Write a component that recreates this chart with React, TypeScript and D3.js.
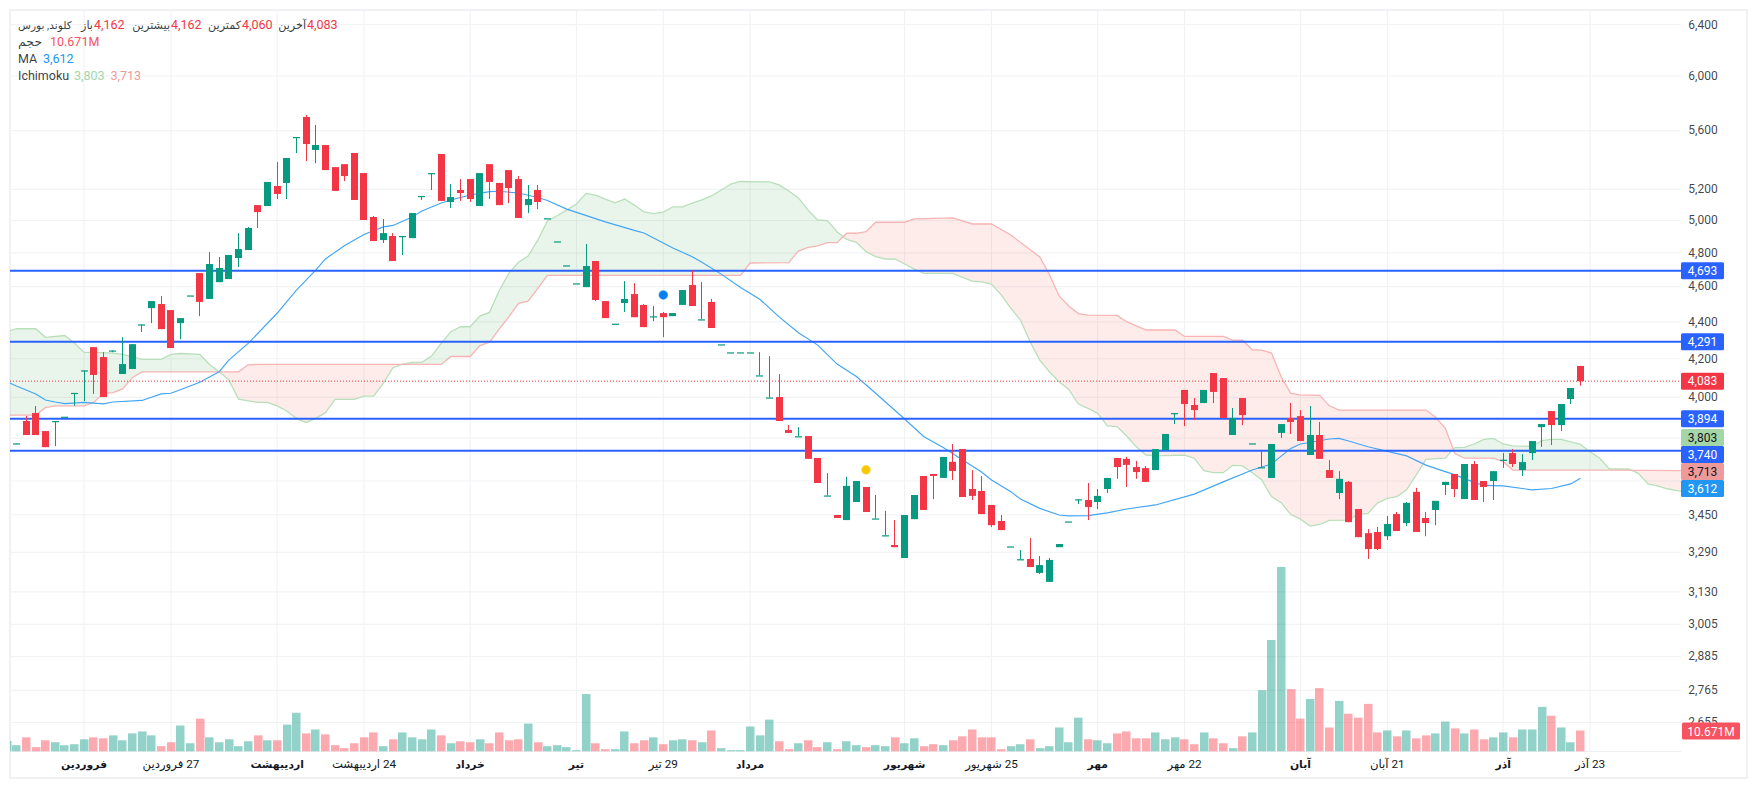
import React from 'react';
import * as d3 from 'd3';

// Bars are listed from the clipped first session through the last one.
const opens = [3775,3772,3883,3922,3834,3883,3904,4023,
4139,4262,4209,4244,4120,4146,4386,4477,4500,4466,
4393,4549,4679,4529,4626,4644,4769,4817,5098,5092,
5222,5242,5555,5697,5465,5499,5348,5368,5444,5308,
5022,4878,4903,4903,4890,5157,5308,5437,5118,5196,
5268,5092,5368,5242,5328,5268,5098,5196,5014,4870,
4725,4619,4597,4751,4517,4390,4506,4557,4495,4431,
4449,4432,4495,4609,4414,4512,4277,4234,4234,4234,
4113,4000,4002,3839,3809,3810,3706,3535,3449,3427,
3506,3573,3434,3362,3321,3267,3431,3623,3632,3614,
3688,3748,3564,3555,3493,3423,3315,3262,3263,3206,
3170,3312,3421,3518,3515,3506,3564,3706,3702,3664,
3659,3650,3743,3922,4038,3962,3972,4125,4099,3815,
3997,3775,3663,3614,3825,3898,3907,3720,3815,3650,
3546,3596,3475,3371,3376,3358,3453,3414,3551,3436,
3471,3582,3632,3519,3678,3600,3600,3698,3729,3650,
3729,3853,3932,3863,3992,4162];
const highs = [3778,3775,3908,3957,3834,3883,3904,4023,
4139,4262,4235,4244,4316,4278,4386,4517,4546,4466,
4421,4549,4679,4805,4775,4787,4921,4959,5098,5249,
5382,5410,5555,5711,5640,5499,5348,5368,5444,5308,
5028,5009,4921,4903,5047,5157,5308,5437,5235,5268,
5268,5308,5368,5242,5328,5288,5229,5229,5014,4870,
4725,4619,4854,4751,4517,4390,4632,4620,4500,4489,
4455,4449,4580,4697,4626,4529,4277,4234,4234,4234,
4235,4214,4120,3863,3853,3810,3706,3636,3449,3619,
3600,3573,3537,3467,3427,3449,3537,3623,3632,3711,
3772,3748,3650,3623,3493,3449,3315,3300,3350,3275,
3267,3325,3421,3518,3591,3564,3614,3706,3711,3692,
3669,3748,3820,3922,4038,3997,4038,4125,4099,3947,
3997,3775,3739,3772,3868,3972,3937,3957,3878,3697,
3645,3600,3475,3388,3397,3445,3462,3506,3569,3462,
3511,3596,3632,3678,3692,3600,3645,3729,3748,3724,
3786,3868,3932,3967,4048,4162];
const lows = [3772,3772,3815,3815,3757,3762,3904,3959,
3982,4018,4002,4235,4120,4146,4344,4393,4360,4257,
4305,4549,4432,4529,4626,4644,4715,4817,4953,5092,
5137,5137,5444,5389,5375,5328,5190,5255,5131,5003,
4872,4860,4751,4787,4890,5131,5196,5125,5079,5125,
5118,5092,5137,5098,5111,5016,5047,5072,5014,4870,
4725,4619,4597,4517,4421,4390,4455,4426,4371,4404,
4316,4432,4495,4489,4414,4366,4277,4234,4234,4234,
4113,4000,3883,3825,3809,3702,3591,3535,3436,3427,
3506,3462,3434,3362,3312,3267,3431,3471,3519,3614,
3605,3528,3515,3453,3397,3384,3315,3262,3230,3202,
3170,3312,3421,3497,3427,3475,3546,3610,3573,3610,
3596,3650,3743,3868,3858,3888,3972,3972,3898,3815,
3863,3775,3663,3614,3801,3820,3786,3720,3702,3614,
3519,3418,3354,3263,3300,3342,3380,3401,3376,3358,
3405,3537,3528,3519,3515,3506,3515,3660,3664,3623,
3697,3758,3767,3834,3967,4060];
const closes = [3777,3775,3815,3815,3757,3883,3904,4023,
4139,4115,4002,4244,4172,4278,4386,4517,4360,4257,
4421,4549,4512,4733,4709,4787,4823,4953,5053,5249,
5170,5410,5555,5506,5499,5328,5190,5288,5131,5003,
4872,4921,4751,4903,5047,5157,5308,5125,5150,5176,
5137,5308,5249,5098,5209,5016,5137,5118,5014,4870,
4725,4619,4721,4523,4421,4390,4529,4426,4371,4431,
4426,4449,4580,4489,4414,4366,4277,4234,4234,4234,
4113,4000,3883,3825,3809,3702,3591,3535,3436,3578,
3600,3462,3434,3362,3312,3449,3537,3471,3623,3711,
3646,3528,3533,3453,3405,3384,3315,3262,3230,3238,
3259,3325,3421,3518,3484,3533,3614,3664,3674,3641,
3596,3748,3820,3922,3967,3937,4038,4028,3898,3898,
3912,3775,3663,3772,3868,3878,3786,3815,3702,3614,
3610,3418,3354,3304,3304,3410,3380,3502,3376,3414,
3511,3596,3564,3678,3515,3573,3645,3698,3678,3687,
3786,3868,3863,3967,4048,4083];
const volumesM = [5.3,3.2,7.2,2.2,5.7,4.7,3.2,3.7,
6.2,7.2,6.7,8.2,5.7,9.2,10.2,8.2,2.7,4.7,
13.2,4.2,16.7,7.2,4.7,6.2,2.7,5.2,8.2,5.7,
5.7,13.7,19.7,9.2,11.2,8.7,3.2,1.7,4.2,7.2,
9.7,2.7,6.2,9.7,7.2,6.2,11.2,8.2,4.2,5.2,
4.7,6.2,4.2,9.7,5.7,6.2,14.2,4.7,2.7,3.2,
2.2,0.7,29.2,4.2,1.2,1.2,10.2,4.2,5.7,7.2,
3.7,5.7,6.2,5.7,4.7,10.7,1.7,0.7,0.7,12.7,
8.2,16.2,5.2,1.2,4.2,5.7,2.2,4.7,1.2,5.2,
3.2,2.2,3.2,2.7,7.2,4.2,6.7,2.7,3.7,3.2,
5.7,7.7,11.2,7.2,7.2,1.2,2.7,3.7,6.2,1.7,
2.7,12.2,4.7,17.2,6.2,5.7,4.2,9.2,10.2,6.7,
6.7,9.7,6.2,7.2,6.2,3.7,9.7,6.7,4.2,1.7,
7.7,9.7,31.2,56.7,93.8,31.7,16.7,26.7,32.2,12.2,
25.7,19.2,17.2,24.2,9.7,10.7,7.7,10.7,6.7,8.2,
9.2,15.2,11.7,9.2,11.2,6.2,7.2,9.7,7.2,11.2,
11.2,22.7,18.2,12.2,4.7,10.671];

// Indicator vertices: bar numbers relative to the first month tick, with values.
const maBars = [-8,-7,-6,-5,-4,-3,-2,0,2,3,6,8,9,12,14,15,17,20,22,24,25,27,29,31,32,34,35,37,38,40,42,43,45,47,48,50,54,57,58,61,63,64,66,68,70,72,74,76,78,80,82,85,87,89,93,94,96,97,99,101,102,104,106,108,111,115,118,121,123,125,126,129,130,131,133,137,139,142,144,145,147,150,152,154,155];
const maValues = [4080,4058,4038,4018,3987,3977,3969,3975,3968,3977,3985,4018,4021,4077,4132,4193,4282,4448,4580,4697,4763,4845,4912,4960,4969,5022,5060,5111,5131,5163,5185,5188,5176,5147,5128,5072,4991,4938,4922,4829,4777,4743,4673,4595,4527,4428,4340,4273,4172,4107,4021,3893,3807,3755,3640,3605,3552,3519,3478,3449,3445,3446,3458,3475,3493,3541,3596,3650,3678,3751,3772,3796,3799,3786,3759,3716,3673,3628,3594,3580,3578,3560,3566,3587,3612];
const spanABars = [-8,-7,-5,-4,-2,-1,0,1,3,4,6,8,9,10,12,13,14,15,16,18,19,20,21,22,23,24,25,26,28,29,30,31,32,33,34,35,36,37,38,39,40,41,42,43,44,45,46,47,48,49,50,51,52,53,54,55,56,57,58,59,60,61,62,63,64,65,66,67,68,71,72,73,74,75,76,77,78,79,80,81,82,83,84,85,86,87,90,92,93,94,95,96,97,98,99,100,101,102,103,104,105,106,107,108,109,110,111,114,115,116,117,118,119,120,121,122,123,124,125,126,127,128,129,131,132,133,134,135,136,137,138,139,141,142,143,144,145,146,147,148,150,151,152,153,155,156,157,158,160,161,162,163,164,165,166];
const spanAValues = [4346,4362,4362,4315,4325,4284,4234,4234,4230,4223,4197,4197,4223,4228,4223,4170,4132,4089,3992,3975,3975,3958,3932,3896,3876,3896,3924,3990,3990,4007,4007,4072,4153,4172,4181,4181,4214,4282,4346,4373,4373,4432,4453,4576,4677,4743,4781,4878,4997,5030,5066,5105,5174,5163,5137,5113,5137,5098,5055,5044,5053,5087,5087,5111,5131,5157,5196,5235,5252,5249,5229,5189,5144,5066,5003,4999,4930,4882,4864,4807,4777,4763,4763,4733,4703,4677,4677,4632,4628,4615,4552,4477,4410,4291,4193,4132,4080,4041,3967,3945,3921,3859,3856,3810,3759,3720,3716,3719,3705,3647,3638,3638,3672,3669,3639,3605,3530,3503,3451,3431,3401,3408,3426,3427,3453,3456,3502,3522,3530,3560,3628,3700,3705,3755,3756,3772,3794,3799,3772,3763,3761,3788,3794,3794,3770,3735,3705,3655,3655,3635,3587,3578,3565,3557,3551];
const spanBBars = [-8,-5,-4,-3,0,1,2,3,4,5,6,16,17,18,37,38,40,41,42,43,44,45,46,47,48,68,69,73,74,75,76,77,78,79,80,81,82,85,86,90,92,93,94,96,99,100,101,102,103,104,107,108,109,110,113,114,118,119,120,121,122,123,124,125,126,128,129,130,139,140,141,142,143,146,147,148,158,166];
const spanBValues = [3912,3912,3949,3958,3958,3975,4021,4024,4043,4101,4131,4131,4168,4170,4170,4212,4212,4270,4288,4360,4428,4504,4517,4590,4666,4666,4739,4741,4811,4833,4843,4862,4862,4920,4920,4930,4989,4989,5010,5016,4978,4978,4978,4909,4775,4671,4546,4489,4446,4438,4436,4401,4378,4355,4355,4320,4320,4300,4300,4248,4246,4230,4106,4021,4013,4011,3958,3937,3937,3902,3847,3727,3705,3705,3689,3650,3650,3647];

const gridPrices = [6400,6000,5600,5200,5000,4800,4600,4400,4200,4000,3800,3600,3450,3290,3130,3005,2885,2765,2655];
const priceLabels = [6400,6000,5600,5200,5000,4800,4600,4400,4200,4000,3450,3290,3130,3005,2885,2765,2655];
const timeBars = [0,9,20,29,40,51,60,69,85,94,105,114,126,135,147,156];
const timeLabels = ['فروردین','27 فروردین','اردیبهشت','24 اردیبهشت','خرداد','تیر','29 تیر','مرداد','شهریور','25 شهریور','مهر','22 مهر','آبان','21 آبان','آذر','23 آذر'];
const timeBold = [true,false,true,false,true,true,false,true,true,false,true,false,true,false,true,false];

const levelValues = [4693,4291,3894,3740];
const lastPrice = 4083;
const spanALast = 3803;
const spanBLast = 3713;
const maLast = 3612;
const lastVolumeM = 10.671;
const markerBars = [60,81];
const markerPrices = [4552,3651];
const markerColors = ['#0a7ff0','#f6c800'];
const ohlcNames = ['باز','بیشترین','کمترین','آخرین'];
const ohlcValues = [4162,4162,4060,4083];

const UP = '#089981';
const DOWN = '#f23645';
const BLUE = '#2962ff';
const FONT = 'Roboto, "DejaVu Sans", sans-serif';
const TEXT = '#131722';

const width = 1757;
const height = 790;
const plot = { left: 10, top: 10, right: 1681, bottom: 751.5, frameRight: 1747, frameBottom: 778 };

export default function App() {
  const x = d3.scaleLinear().domain([-8, 155]).range([6.8, 1580.4]);
  const y = d3.scaleLog().domain([6400, 2655]).range([24.7, 722.5]);
  const vol = d3.scaleLinear().domain([0, 93.8]).range([plot.bottom, 567]);
  const fmt = d3.format(',');

  const line = d3.line<[number, number]>().x(d => x(d[0])).y(d => y(d[1]));
  const pts = (b: number[], v: number[]) => b.map((k, i) => [k, v[i]] as [number, number]);
  const a = pts(spanABars, spanAValues);
  const b = pts(spanBBars, spanBValues);
  const bandPath = 'M' + a.map(d => `${x(d[0])},${y(d[1])}`).join('L') + 'L' + [...b].reverse().map(d => `${x(d[0])},${y(d[1])}`).join('L') + 'Z';
  const bEdge = b.map(d => `${x(d[0])},${y(d[1])}`).join('L');
  const aboveB = `M${x(-8)},0L${bEdge}L${x(166)},0Z`;
  const belowB = `M${x(-8)},${height}L${bEdge}L${x(166)},${height}Z`;

  const bars = opens.map((o, i) => ({
    k: i - 8, o, h: highs[i], l: lows[i], c: closes[i], v: volumesM[i], up: closes[i] >= o,
  }));

  const stackedValues = [
    { v: spanALast, bg: '#a5d6a7', fg: TEXT },
    { v: levelValues[3], bg: BLUE, fg: '#fff' },
    { v: spanBLast, bg: '#ef9a9a', fg: TEXT },
    { v: maLast, bg: '#2196f3', fg: '#fff' },
  ];
  const boxH = 17;
  let lastCenter = -Infinity;
  const stacked = stackedValues.map(s => {
    const c = Math.max(y(s.v), lastCenter + boxH);
    lastCenter = c;
    return { ...s, c };
  });
  const tags = [
    { v: levelValues[0], bg: BLUE, fg: '#fff', c: y(levelValues[0]) },
    { v: levelValues[1], bg: BLUE, fg: '#fff', c: y(levelValues[1]) },
    { v: lastPrice, bg: DOWN, fg: '#fff', c: y(lastPrice) },
    { v: levelValues[2], bg: BLUE, fg: '#fff', c: y(levelValues[2]) },
    ...stacked,
  ];

  const ohlcNameEnd = [93, 170, 241, 306];
  const ohlcValueStart = [94, 171, 242, 307];

  return (
    <svg width={width} height={height} viewBox={`0 0 ${width} ${height}`}
      style={{ position: 'absolute', left: 0, top: 0, background: '#fff', fontFamily: FONT }}>
      <defs>
        <clipPath id="plotClip"><rect x={plot.left} y={plot.top} width={plot.right - plot.left} height={plot.bottom - plot.top} /></clipPath>
        <clipPath id="aboveB"><path d={aboveB} /></clipPath>
        <clipPath id="belowB"><path d={belowB} /></clipPath>
      </defs>
      <rect x={plot.left} y={plot.top} width={plot.frameRight - plot.left} height={plot.frameBottom - plot.top} fill="#fff" stroke="#f0f0f5" strokeWidth={2} />

      {gridPrices.map(t => (
        <line key={t} x1={plot.left} x2={plot.right} y1={y(t)} y2={y(t)} stroke="#f2f3f5" strokeWidth={1.2} />
      ))}
      {timeBars.map(k => (
        <line key={k} x1={x(k)} x2={x(k)} y1={plot.top} y2={plot.bottom} stroke="#f0f1f3" strokeWidth={1} />
      ))}
      <line x1={plot.left} x2={plot.right} y1={plot.bottom} y2={plot.bottom} stroke="#eceef1" strokeWidth={1} />

      <g clipPath="url(#plotClip)">
        <g clipPath="url(#aboveB)"><path d={bandPath} fill="rgba(76,175,80,0.12)" /></g>
        <g clipPath="url(#belowB)"><path d={bandPath} fill="rgba(244,67,54,0.1)" /></g>
        <path d={line(a) as string} fill="none" stroke="#b9dfba" strokeWidth={1.3} />
        <path d={line(b) as string} fill="none" stroke="#f7b4b4" strokeWidth={1.3} />

        {bars.map(d => (
          <rect key={d.k} x={Math.round(x(d.k) - 4.25)} y={vol(d.v)} width={8.5} height={plot.bottom - vol(d.v)}
            fill={d.up ? 'rgba(8,153,129,0.44)' : 'rgba(248,60,75,0.44)'} />
        ))}

        <path d={line(pts(maBars, maValues)) as string} fill="none" stroke="#42a5f5" strokeWidth={1.15} />
        <line x1={plot.left} x2={plot.right} y1={y(lastPrice)} y2={y(lastPrice)} stroke={DOWN} strokeWidth={1} strokeDasharray="1 2" />
        {levelValues.map(v => (
          <line key={v} x1={plot.left} x2={plot.right} y1={y(v)} y2={y(v)} stroke={BLUE} strokeWidth={2} />
        ))}

        {bars.map(d => {
          const left = Math.round(x(d.k) - 3.5);
          const top = y(Math.max(d.o, d.c));
          const bottom = y(Math.min(d.o, d.c));
          const color = d.up ? UP : DOWN;
          return (
            <g key={d.k} fill={color}>
              <rect x={left + 3} y={y(d.h)} width={1} height={y(d.l) - y(d.h)} />
              <rect x={left} y={top} width={7} height={Math.max(bottom - top, 1.2)} />
            </g>
          );
        })}
        {markerBars.map((k, i) => (
          <circle key={k} cx={x(k)} cy={y(markerPrices[i])} r={4.2} fill={markerColors[i]} stroke={markerColors[i]} strokeOpacity={0.6} strokeWidth={1.2} />
        ))}
      </g>

      {priceLabels.map(t => (
        <text key={t} x={1703} y={y(t) + 3.8} textAnchor="middle" fontSize={12} fill={TEXT} fillOpacity={0.82}>{fmt(t)}</text>
      ))}
      {tags.map(t => (
        <g key={t.v}>
          <rect x={1681} y={t.c - boxH / 2} width={43} height={boxH} rx={1.5} fill={t.bg} />
          <text x={1702.5} y={t.c + 4.3} textAnchor="middle" fontSize={12} fill={t.fg}>{fmt(t.v)}</text>
        </g>
      ))}
      <rect x={1682} y={y(2655)} width={58} height={17} rx={1.5} fill="#f7525f" />
      <text x={1711} y={y(2655) + 13} textAnchor="middle" fontSize={12} fill="#fff">{lastVolumeM}M</text>

      {timeBars.map((k, i) => (
        <text key={k} x={x(k)} y={768} textAnchor="middle" fontSize={timeBold[i] ? 10.8 : 11.7} fontWeight={timeBold[i] ? 700 : 400}
          fill={TEXT} style={{ direction: 'rtl' }}>{timeLabels[i]}</text>
      ))}

      <g fontSize={12.5}>
        <text x={18} y={28.5} fontSize={10.6} fill={TEXT} fillOpacity={0.85}>کلوند, بورس</text>
        {ohlcNames.map((n, i) => (
          <text key={n} x={ohlcNameEnd[i]} y={28.5} textAnchor="end" fontSize={11.2} fill={TEXT} fillOpacity={0.85}>{n}</text>
        ))}
        {ohlcValues.map((v, i) => (
          <text key={i} x={ohlcValueStart[i]} y={28.5} fill={DOWN}>{fmt(v)}</text>
        ))}
        <text x={18} y={45.5} fill={TEXT} fillOpacity={0.85}>حجم</text>
        <text x={50} y={45.5} fill="#f7525f">{lastVolumeM}M</text>
        <text x={18} y={62.5} fill={TEXT} fillOpacity={0.85}>MA</text>
        <text x={43} y={62.5} fill="#2196f3">{fmt(maLast)}</text>
        <text x={18} y={79.5} fill={TEXT} fillOpacity={0.85}>Ichimoku</text>
        <text x={74} y={79.5} fill="#a5d6a7">{fmt(spanALast)}</text>
        <text x={110.5} y={79.5} fill="#ef9a9a">{fmt(spanBLast)}</text>
      </g>
    </svg>
  );
}
